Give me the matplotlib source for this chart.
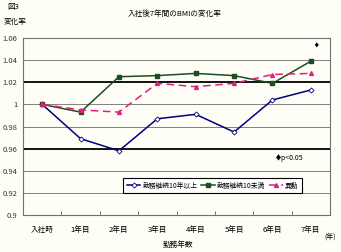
import matplotlib
matplotlib.use("Agg")
import matplotlib.pyplot as plt
from matplotlib.ticker import FixedLocator

plt.rcParams['font.family'] = ['Noto Sans CJK JP', 'DejaVu Sans']

categories = ["入社時", "1年目", "2年目", "3年目", "4年目", "5年目", "6年目", "7年目"]
long_tenure = [1.000, 0.969, 0.958, 0.987, 0.991, 0.975, 1.004, 1.013]
short_tenure = [1.000, 0.993, 1.025, 1.026, 1.028, 1.026, 1.019, 1.039]
transfer = [1.000, 0.995, 0.993, 1.019, 1.016, 1.019, 1.027, 1.028]
series_names = ["勤務継続10年以上", "勤務継続10未満", "異動"]
yticks = [0.9, 0.92, 0.94, 0.96, 0.98, 1.0, 1.02, 1.04, 1.06]
ytick_labels = ["0.9", "0.92", "0.94", "0.96", "0.98", "1", "1.02", "1.04", "1.06"]

bg = '#fefef6'
fig = plt.figure(figsize=(3.41, 2.52), dpi=100, facecolor=bg)
ax = fig.add_axes([23/341, 1-215/252, (330-23)/341, (215-38)/252])
ax.set_facecolor(bg)

x = list(range(len(categories)))
ax.set_xlim(-0.5, len(categories) - 0.5)
ax.set_ylim(0.9, 1.06)

for v in yticks[1:-1]:
    if abs(v - 1.02) < 1e-9 or abs(v - 0.96) < 1e-9:
        ax.axhline(v, color='black', lw=1.3, zorder=1)
    else:
        ax.axhline(v, color='#808080', lw=0.7, zorder=1)

ax.plot(x, long_tenure, color='#000080', lw=1.1, marker='D', ms=2.6,
        mfc='white', mec='#000080', mew=0.6, label=series_names[0], zorder=3)
ax.plot(x, short_tenure, color='#1e4d1e', lw=1.1, marker='s', ms=2.6,
        mfc='#1e4d1e', mec='#1e4d1e', label=series_names[1], zorder=3)
ax.plot(x, transfer, color='#e0207a', lw=1.1, ls=(0, (5, 3)), marker='^', ms=2.8,
        mfc='#e0207a', mec='#e0207a', label=series_names[2], zorder=3)

ax.yaxis.set_major_locator(FixedLocator(yticks))
ax.set_yticklabels(ytick_labels)
ax.set_xticks(x)
ax.set_xticklabels(categories)
ax.set_xticks([i + 0.5 for i in x[:-1]], minor=True)
ax.tick_params(axis='x', which='major', length=0, labelsize=5.5, pad=8, colors='black')
ax.tick_params(axis='x', which='minor', length=3, direction='in', color='#606060')
ax.tick_params(axis='y', length=0, labelsize=5.5, pad=4, colors='black')
for lbl in ax.get_yticklabels():
    lbl.set_color('#333333')
for s in ax.spines.values():
    s.set_color('#707070')
    s.set_linewidth(0.8)

leg = ax.legend(loc='upper left', bbox_to_anchor=((123-23)/307, (215-178)/177),
                ncol=3, fontsize=4.9, frameon=True, fancybox=False,
                edgecolor='black', framealpha=1, facecolor='white',
                handlelength=2.0, handletextpad=0.3, columnspacing=0.6,
                borderpad=0.55, borderaxespad=0)
leg.get_frame().set_linewidth(0.8)

fig.text(175/341, 1-14/252, "入社後7年間のBMIの変化率", ha='center', va='center', fontsize=5.5)
fig.text(7/341, 1-7/252, "図3", ha='left', va='center', fontsize=5.5)
fig.text(4/341, 1-22/252, "変化率", ha='left', va='center', fontsize=5.5)
fig.text(178/341, 1-245/252, "勤務年数", ha='center', va='center', fontsize=5.5)
fig.text(330/341, 1-237/252, "(年)", ha='center', va='center', fontsize=5)
fig.text(288/341, 1-158/252, "♦p<0.05", ha='center', va='center', fontsize=5)
fig.text(316/341, 1-46/252, "♦", ha='center', va='center', fontsize=4)

fig.savefig("out.png", dpi=100, facecolor=bg)
